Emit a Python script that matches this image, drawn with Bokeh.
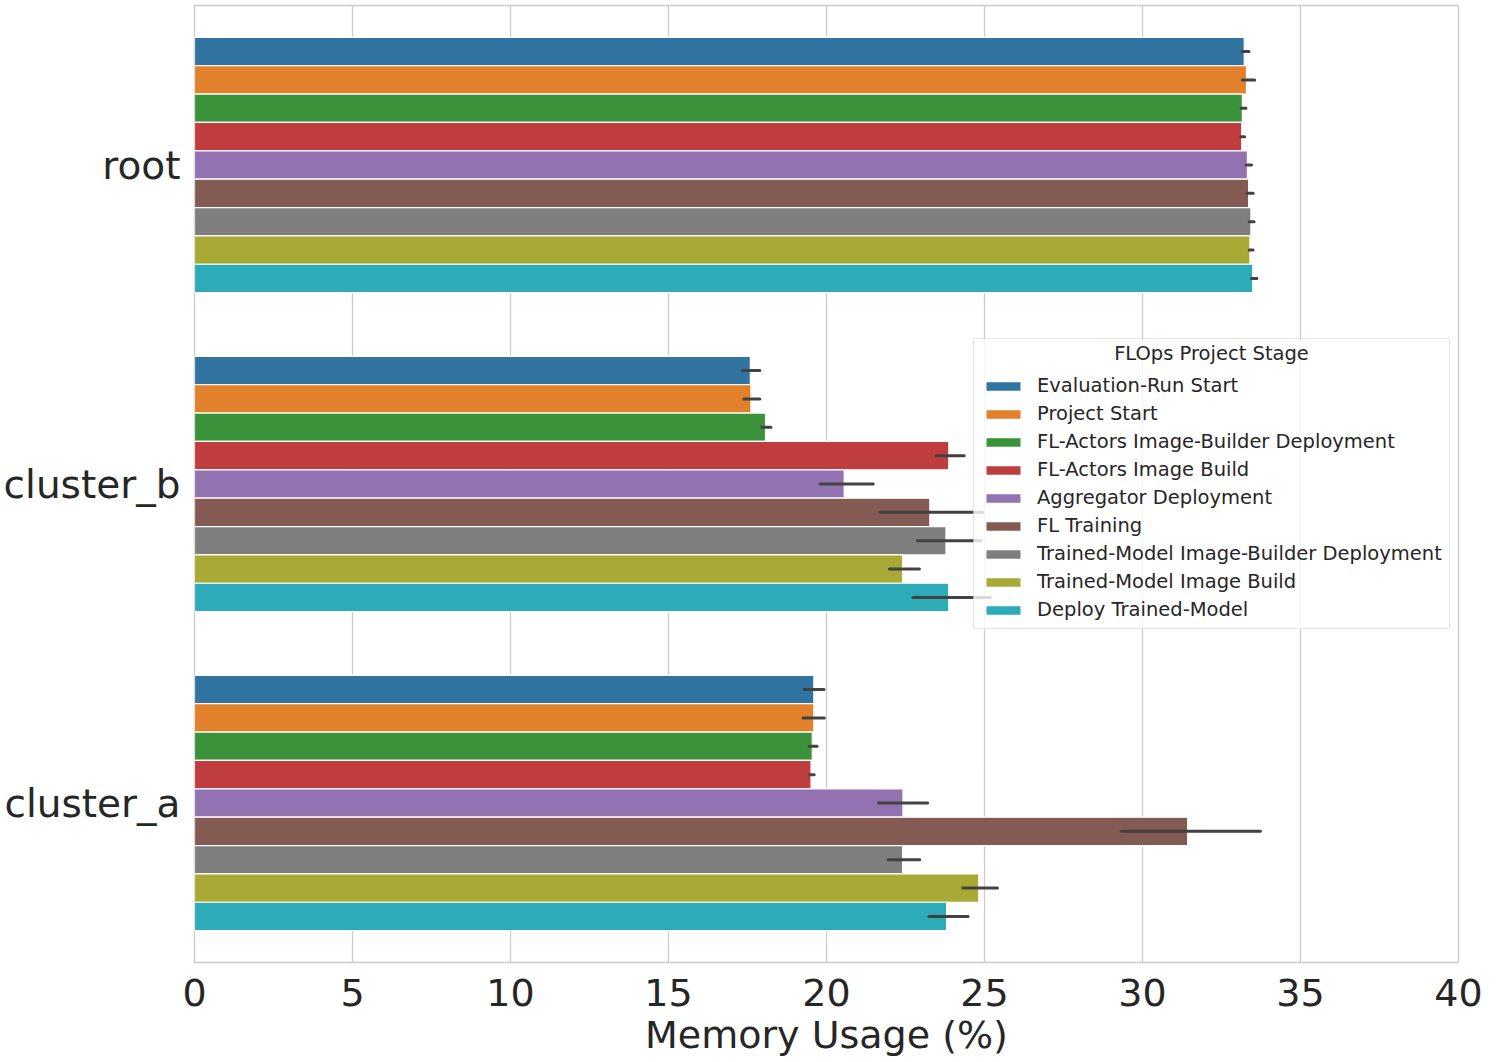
from bokeh.plotting import figure
from bokeh.models import (FactorRange, Range1d, ColumnDataSource, Legend, LegendItem,
                          FixedTicker, Label, BoxAnnotation)
from bokeh.transform import dodge
from bokeh.embed import file_html
from bokeh.resources import INLINE

# ---- data ----
clusters = ["cluster_a", "cluster_b", "root"]  # bottom to top
stages = [
    "Evaluation-Run Start",
    "Project Start",
    "FL-Actors Image-Builder Deployment",
    "FL-Actors Image Build",
    "Aggregator Deployment",
    "FL Training",
    "Trained-Model Image-Builder Deployment",
    "Trained-Model Image Build",
    "Deploy Trained-Model",
]
colors = ["#3274a1", "#e1812c", "#3a923a", "#c03d3e", "#9372b2",
          "#845b53", "#7f7f7f", "#a9aa35", "#2eabb8"]

# mean memory usage per stage (order of `stages`)
root_mean = [33.22, 33.29, 33.16, 33.14, 33.32, 33.36, 33.43, 33.40, 33.49]
root_lo = [33.15, 33.16, 33.13, 33.12, 33.28, 33.31, 33.38, 33.38, 33.45]
root_hi = [33.37, 33.55, 33.27, 33.23, 33.45, 33.50, 33.53, 33.50, 33.62]

cluster_b_mean = [17.59, 17.61, 18.07, 23.87, 20.56, 23.27, 23.78, 22.41, 23.87]
cluster_b_lo = [17.34, 17.39, 17.95, 23.48, 19.80, 21.70, 22.88, 21.99, 22.74]
cluster_b_hi = [17.89, 17.89, 18.24, 24.36, 21.48, 24.94, 24.88, 22.94, 25.18]

cluster_a_mean = [19.60, 19.60, 19.55, 19.51, 22.42, 31.43, 22.41, 24.82, 23.80]
cluster_a_lo = [19.29, 19.26, 19.46, 19.47, 21.65, 29.33, 21.95, 24.31, 23.24]
cluster_a_hi = [19.92, 19.93, 19.70, 19.61, 23.20, 33.73, 22.95, 25.41, 24.48]

x_ticks = [0, 5, 10, 15, 20, 25, 30, 35, 40]
legend_title = "FLOps Project Stage"

means = {"cluster_a": cluster_a_mean, "cluster_b": cluster_b_mean, "root": root_mean}
los = {"cluster_a": cluster_a_lo, "cluster_b": cluster_b_lo, "root": root_lo}
his = {"cluster_a": cluster_a_hi, "cluster_b": cluster_b_hi, "root": root_hi}

FONT = "DejaVu Sans"
TXT = "#262626"

p = figure(
    y_range=FactorRange(*clusters),
    x_range=Range1d(0, 40),
    frame_width=1264, frame_height=957,
    min_border_left=194, min_border_right=25,
    min_border_top=5, min_border_bottom=82,
    output_backend="svg", toolbar_location=None,
)

n = len(stages)
bw = 0.8 / n
items = []
for i, (stage, col) in enumerate(zip(stages, colors)):
    src = ColumnDataSource(dict(
        cluster=clusters,
        val=[means[c][i] for c in clusters],
        lo=[los[c][i] for c in clusters],
        hi=[his[c][i] for c in clusters],
    ))
    off = 0.4 - (i + 0.5) * bw
    r = p.hbar(y=dodge("cluster", off, range=p.y_range), right="val", left=0,
               height=bw, source=src, fill_color=col, line_color="white", line_width=1.2)
    p.segment(x0="lo", x1="hi", y0=dodge("cluster", off, range=p.y_range),
              y1=dodge("cluster", off, range=p.y_range), source=src,
              line_color="#424242", line_width=3, line_cap="round")
    items.append(LegendItem(label=stage, renderers=[r]))

# legend placement (screen px inside frame)
LEG_X, LEG_Y, LEG_W, LEG_H = 779, 333, 476, 290

# semi-transparent legend backdrop
backdrop = BoxAnnotation(left=LEG_X, right=LEG_X + LEG_W, bottom=LEG_Y, top=LEG_Y + LEG_H,
                         left_units="screen", right_units="screen",
                         bottom_units="screen", top_units="screen",
                         fill_color="white", fill_alpha=0.8, line_color=None)
p.add_layout(backdrop)

# centred legend title (matplotlib style)
title_lbl = Label(x=LEG_X + LEG_W / 2, y=609, x_units="screen", y_units="screen",
                  text=legend_title, text_align="center", text_baseline="middle",
                  text_font=FONT, text_font_size="19.5px", text_color=TXT)
p.add_layout(title_lbl)

legend = Legend(items=items, location=(LEG_X, LEG_Y), title=" ")
legend.title_text_font = FONT
legend.title_text_font_size = "19.5px"
legend.title_text_font_style = "normal"
legend.title_text_color = TXT
legend.title_standoff = 5
legend.label_text_font = FONT
legend.label_text_font_size = "19.5px"
legend.label_text_color = TXT
legend.glyph_width = 44
legend.glyph_height = 12
legend.label_standoff = 12
legend.spacing = 5
legend.padding = 7
legend.margin = 0
legend.border_line_color = "#cccccc"
legend.border_line_width = 1.3
legend.background_fill_color = None
p.add_layout(legend)

p.outline_line_color = "#cccccc"
p.outline_line_width = 1.3
p.xgrid.grid_line_color = "#cccccc"
p.xgrid.grid_line_width = 1.3
p.ygrid.grid_line_color = None

p.xaxis.ticker = FixedTicker(ticks=x_ticks)
p.xaxis.axis_label = "Memory Usage (%)"
for ax in (p.xaxis, p.yaxis):
    ax.axis_line_color = None
    ax.major_tick_line_color = None
    ax.minor_tick_line_color = None
    ax.major_label_text_font = FONT
    ax.major_label_text_font_size = "38px"
    ax.major_label_text_color = TXT
    ax.axis_label_text_font = FONT
    ax.axis_label_text_font_size = "38px"
    ax.axis_label_text_font_style = "normal"
    ax.axis_label_text_color = TXT
p.yaxis.major_label_text_font_size = "39px"
p.xaxis.major_label_standoff = 10
p.xaxis.axis_label_standoff = 4
p.yaxis.major_label_standoff = 8

open("out.html", "w").write(file_html(p, INLINE))
